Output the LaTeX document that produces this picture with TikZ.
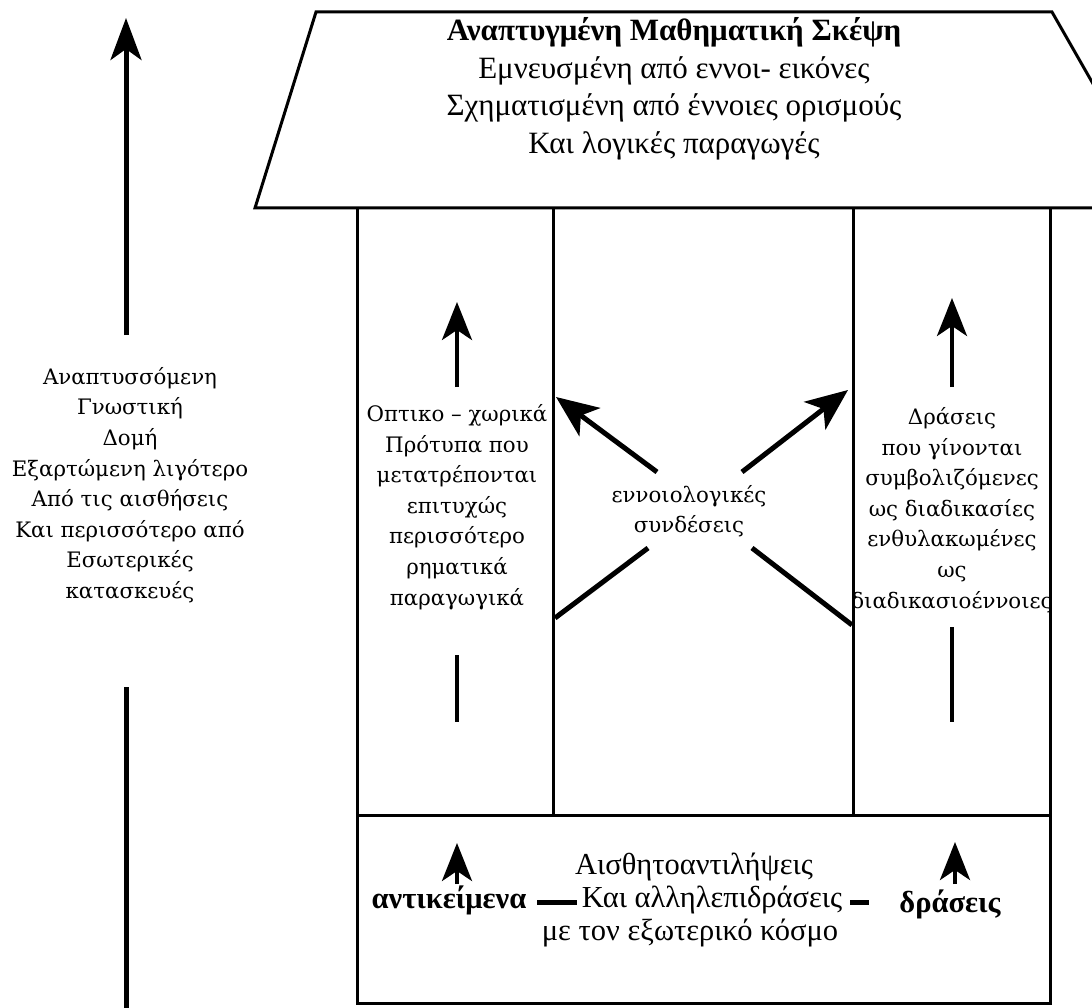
\documentclass[tikz,border=0pt]{standalone}
\usepackage{fontspec}
\setmainfont{Liberation Serif}
\newfontfamily\bookfont{DejaVu Serif}
\usetikzlibrary{arrows.meta}

\begin{document}
\begin{tikzpicture}[x=1pt,y=-1pt,
  frame/.style={line width=3pt, line join=miter},
  shaft/.style={line width=5pt},
  bigup/.style={line width=5pt, -{Stealth[length=42pt,width=31pt,inset=11pt]}},
  smallup/.style={line width=4pt, -{Stealth[length=38pt,width=30pt,inset=10pt]}},
  diagup/.style={line width=5pt, -{Stealth[length=42pt,width=35pt,inset=11pt]}},
  bar/.style={line width=5pt},
  rooftext/.style={inner sep=0pt, align=center, font=\fontsize{31}{37.5}\selectfont},
  basetext/.style={inner sep=0pt, align=center, font=\fontsize{30.5}{33}\selectfont},
  boldtext/.style={inner sep=0pt, font=\bfseries\fontsize{30.5}{33}\selectfont},
  booktext/.style={inner sep=0pt, align=center, font=\bookfont\fontsize{21.3}{30.6}\selectfont},
]
\path[use as bounding box] (0,0) rectangle (1092,1008);
\clip (0,0) rectangle (1092,1008);

% roof
\draw[frame] (316,12) -- (1052,12) -- (1164,208) -- (255,208) -- cycle;
\node[rooftext] (roof) at (674,89)
  {\textbf{Αναπτυγμένη Μαθηματική Σκέψη}\\Εμνευσμένη από εννοι- εικόνες\\
   Σχηματισμένη από έννοιες ορισμούς\\Και λογικές παραγωγές};

% walls, columns and floor
\draw[frame] (357,208) -- (357,1003) -- (1050,1003) -- (1050,208);
\draw[frame] (357,815) -- (1050,815);
\draw[frame] (553,208) -- (553,815);
\draw[frame] (853,208) -- (853,815);

% growth axis on the left
\node[booktext] (growth) at (130,485)
  {Αναπτυσσόμενη\\Γνωστική\\Δομή\\Εξαρτώμενη λιγότερο\\Από τις αισθήσεις\\
   Και περισσότερο από\\Εσωτερικές\\κατασκευές};
\coordinate (gTail) at (126,335);
\coordinate (gTip)  at (126,18);
\coordinate (gLow)  at (126,687);
\coordinate (gFoot) at (126,1012);
\draw[bigup] (gTail) -- (gTip);
\draw[shaft] (gLow) -- (gFoot);

% left column
\node[booktext] (visual) at (457,507)
  {Οπτικο – χωρικά\\Πρότυπα που\\μετατρέπονται\\επιτυχώς\\περισσότερο\\
   ρηματικά\\παραγωγικά};
\coordinate (vTail) at (457,387);
\coordinate (vTip)  at (457,302);
\coordinate (vLow)  at (457,655);
\coordinate (vFoot) at (457,722);
\draw[smallup] (vTail) -- (vTip);
\draw[line width=4pt] (vLow) -- (vFoot);

% right column
\node[booktext] (actions) at (952,510)
  {Δράσεις\\που γίνονται\\συμβολιζόμενες\\ως διαδικασίες\\ενθυλακωμένες\\
   ως\\διαδικασιοέννοιες};
\coordinate (aTail) at (952,387);
\coordinate (aTip)  at (952,298);
\coordinate (aLow)  at (952,627);
\coordinate (aFoot) at (952,722);
\draw[smallup] (aTail) -- (aTip);
\draw[line width=4pt] (aLow) -- (aFoot);

% middle column: conceptual links
\node[booktext] (links) at (689,511) {εννοιολογικές\\συνδέσεις};
\coordinate (ulTail) at (657,472);
\coordinate (ulTip)  at (556,397);
\coordinate (urTail) at (742,472);
\coordinate (urTip)  at (848,390);
\coordinate (llEnd)  at (648,548);
\coordinate (llWall) at (555,618);
\coordinate (lrEnd)  at (752,548);
\coordinate (lrWall) at (852,625);
\draw[diagup] (ulTail) -- (ulTip);
\draw[diagup] (urTail) -- (urTip);
\draw[line width=5pt] (llEnd) -- (llWall);
\draw[line width=5pt] (lrEnd) -- (lrWall);

% foundation
\node[basetext] (percept)  at (694,867) {Αισθητοαντιλήψεις};
\node[basetext] (interact) at (712,900) {Και αλληλεπιδράσεις};
\node[basetext] (world)    at (690,933) {με τον εξωτερικό κόσμο};
\node[boldtext] (objects) at (449,900) {αντικείμενα};
\node[boldtext] (deeds) at (950,904) {δράσεις};
\coordinate (oTail) at (457,884);
\coordinate (oTip)  at (457,843);
\coordinate (dTail) at (955,884);
\coordinate (dTip)  at (955,842);
\draw[smallup] (oTail) -- (oTip);
\draw[smallup] (dTail) -- (dTip);
\coordinate (b1) at (537,902);
\coordinate (b2) at (577,902);
\coordinate (b3) at (850,902);
\coordinate (b4) at (869,902);
\draw[bar] (b1) -- (b2);
\draw[bar] (b3) -- (b4);
\end{tikzpicture}
\end{document}
